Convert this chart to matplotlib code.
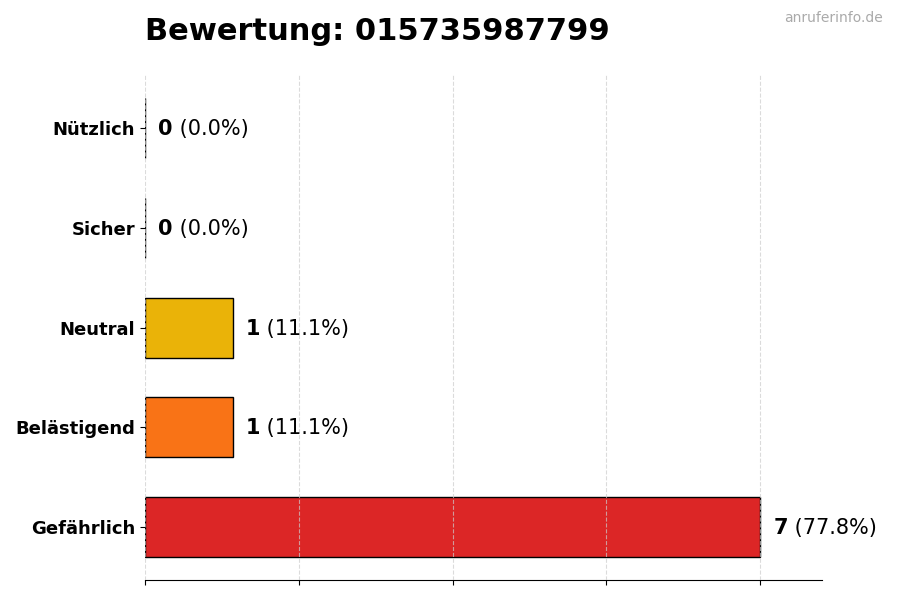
import matplotlib
matplotlib.use("Agg")
import matplotlib.pyplot as plt

# Daten
kategorien = ["Gefährlich", "Belästigend", "Neutral", "Sicher", "Nützlich"]
anzahl = [7, 1, 1, 0, 0]
prozent = [77.8, 11.1, 11.1, 0.0, 0.0]
farben = ["#dc2626", "#f97316", "#eab308", "#84cc16", "#16a34a"]
nummer = "015735987799"

fig, ax = plt.subplots(figsize=(9, 6), dpi=100)
fig.subplots_adjust(left=0.161, right=0.913, top=0.875, bottom=0.033)

ax.barh(kategorien, anzahl, height=0.6, color=farben, edgecolor="black", linewidth=1, zorder=1)
ax.set_xlim(0, max(anzahl) * 1.1)
ax.set_xticks([i * max(anzahl) / 4 for i in range(5)])
ax.set_xticklabels([])
ax.grid(axis="x", linestyle="--", color="#cccccc", linewidth=0.8, alpha=0.7, zorder=3)
ax.set_axisbelow(False)

for s in ["top", "right", "left"]:
    ax.spines[s].set_visible(False)

for lab in ax.get_yticklabels():
    lab.set_fontweight("bold")
    lab.set_fontsize(13)

# Wertbeschriftungen
for i, (n, p) in enumerate(zip(anzahl, prozent)):
    t = ax.text(n + 0.15, i - 0.01, str(n), fontsize=15, fontweight="bold", va="center", ha="left")
    ax.annotate(f" ({p:.1f}%)", xy=(1, 0.5), xycoords=t, va="center", ha="left", fontsize=15)

fig.text(0.161, 0.947, f"Bewertung: {nummer}", fontsize=22, fontweight="bold", ha="left", va="center")
fig.text(0.981, 0.97, "anruferinfo.de", fontsize=10, color="#aaaaaa", ha="right", va="center")

fig.savefig("out.png")
